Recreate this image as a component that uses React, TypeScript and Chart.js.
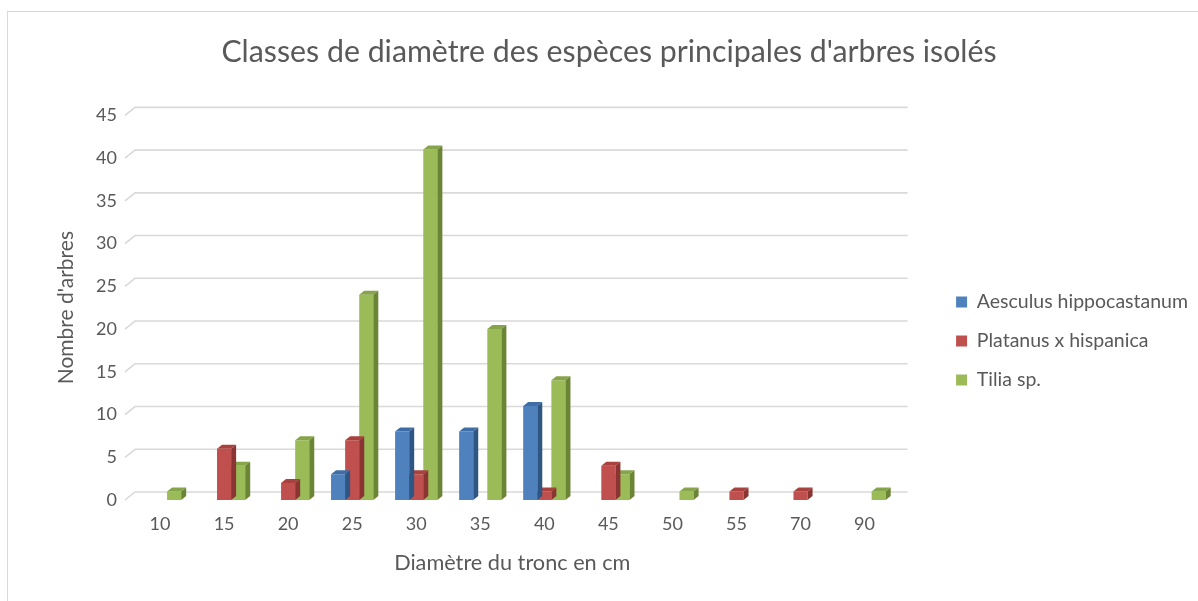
import React, { useEffect, useRef } from 'react';
import { Chart, registerables } from 'chart.js';

Chart.register(...registerables);

const chartTitle = "Classes de diamètre des espèces principales d'arbres isolés";
const xAxisTitle = 'Diamètre du tronc en cm';
const yAxisTitle = "Nombre d'arbres";
const categories = ['10', '15', '20', '25', '30', '35', '40', '45', '50', '55', '70', '90'];
const seriesNames = ['Aesculus hippocastanum', 'Platanus x hispanica', 'Tilia sp.'];
const aesculusValues = [0, 0, 0, 3, 8, 8, 11, 0, 0, 0, 0, 0];
const platanusValues = [0, 6, 2, 7, 3, 0, 1, 4, 0, 1, 1, 0];
const tiliaValues = [1, 4, 7, 24, 41, 20, 14, 3, 1, 0, 0, 1];
const yMin = 0;
const yMax = 45;
const yStep = 5;

const frontColors = ['#4f81bd', '#c0504d', '#9bbb59'];
const topColors = ['#3f6ea6', '#a9413e', '#86a54a'];
const sideColors = ['#2f5582', '#8a3533', '#6a8535'];

const FONT = 'Lato, "Open Sans", sans-serif';
const TEXT = '#595959';
const GRID = '#d9d9d9';
const DX = 5;
const DY = 4;

const depthPlugin = {
  id: 'depth3d',
  beforeDatasetsDraw(chart: any) {
    const { ctx, chartArea, scales } = chart;
    const y = scales.y;
    ctx.save();
    ctx.strokeStyle = GRID;
    ctx.lineWidth = 1.6;
    y.ticks.forEach((t: any) => {
      const py = y.getPixelForValue(t.value);
      ctx.beginPath();
      ctx.moveTo(chartArea.left - 3, py);
      ctx.lineTo(chartArea.left + 7, py - 8);
      ctx.lineTo(chartArea.right + 11, py - 8);
      ctx.stroke();
    });
    ctx.restore();
  },
  afterDatasetDraw(chart: any, args: any) {
    const { ctx } = chart;
    const idx = args.index;
    const ds = chart.data.datasets[idx];
    ctx.save();
    args.meta.data.forEach((el: any, i: number) => {
      const v = ds.data[i];
      if (!v) return;
      const { x, y, base, width } = el.getProps(['x', 'y', 'base', 'width'], true);
      const l = x - width / 2;
      const r = x + width / 2;
      ctx.fillStyle = topColors[idx];
      ctx.beginPath();
      ctx.moveTo(l, y);
      ctx.lineTo(l + DX, y - DY);
      ctx.lineTo(r + DX, y - DY);
      ctx.lineTo(r, y);
      ctx.closePath();
      ctx.fill();
      ctx.fillStyle = sideColors[idx];
      ctx.beginPath();
      ctx.moveTo(r, y);
      ctx.lineTo(r + DX, y - DY);
      ctx.lineTo(r + DX, base - DY);
      ctx.lineTo(r, base);
      ctx.closePath();
      ctx.fill();
    });
    ctx.restore();
  },
};

export default function App() {
  const ref = useRef<HTMLCanvasElement | null>(null);
  useEffect(() => {
    if (!ref.current) return;
    const values = [aesculusValues, platanusValues, tiliaValues];
    const chart = new Chart(ref.current, {
      type: 'bar',
      data: {
        labels: categories,
        datasets: seriesNames.map((name, i) => ({
          label: name,
          data: values[i],
          backgroundColor: frontColors[i],
          borderWidth: 0,
          categoryPercentage: 0.66,
          barPercentage: 1,
        })),
      },
      options: {
        responsive: false,
        animation: false,
        layout: { padding: { left: 12, right: 0, top: 0, bottom: 0 } },
        plugins: {
          title: {
            display: true,
            text: chartTitle,
            color: TEXT,
            font: { family: FONT, size: 30.3, weight: 'normal' },
            padding: { top: 22, bottom: 45 },
          },
          legend: {
            position: 'right',
            maxWidth: 320,
            title: { display: true, text: '', font: { size: 10 }, padding: { top: 58, bottom: 0 } },
            labels: {
              color: TEXT,
              font: { family: FONT, size: 19.5 },
              boxWidth: 11,
              boxHeight: 11,
              padding: 19.5,
            },
          },
          tooltip: { enabled: false },
        },
        scales: {
          x: {
            grid: { display: false, drawTicks: false },
            border: { display: false },
            ticks: { color: TEXT, font: { family: FONT, size: 18 }, padding: 13 },
            title: {
              display: true,
              text: xAxisTitle,
              color: TEXT,
              font: { family: FONT, size: 21.7 },
              padding: { top: 0, bottom: 24 },
            },
            afterFit(s: any) {
              s.height = 100;
            },
          },
          y: {
            min: yMin,
            max: yMax,
            grid: { display: false, drawTicks: false },
            border: { display: false },
            ticks: { stepSize: yStep, color: TEXT, font: { family: FONT, size: 18 }, padding: 11 },
            title: {
              display: true,
              text: yAxisTitle,
              color: TEXT,
              font: { family: FONT, size: 21 },
              padding: { top: 34, bottom: 0 },
            },
            afterFit(s: any) {
              s.width = 108;
            },
          },
          yR: {
            position: 'right',
            display: true,
            grid: { display: false, drawTicks: false },
            border: { display: false },
            ticks: { display: false },
            afterFit(s: any) {
              s.width = 40;
            },
          },
        },
      } as any,
      plugins: [depthPlugin],
    });
    return () => chart.destroy();
  }, []);

  return (
    <div
      style={{
        position: 'absolute',
        left: 7,
        top: 11,
        width: 1190,
        height: 589,
        borderLeft: '1px solid #d9d9d9',
        borderTop: '1px solid #d9d9d9',
        background: '#fff',
      }}
    >
      <canvas ref={ref} width={1190} height={588} style={{ display: 'block' }} />
    </div>
  );
}
